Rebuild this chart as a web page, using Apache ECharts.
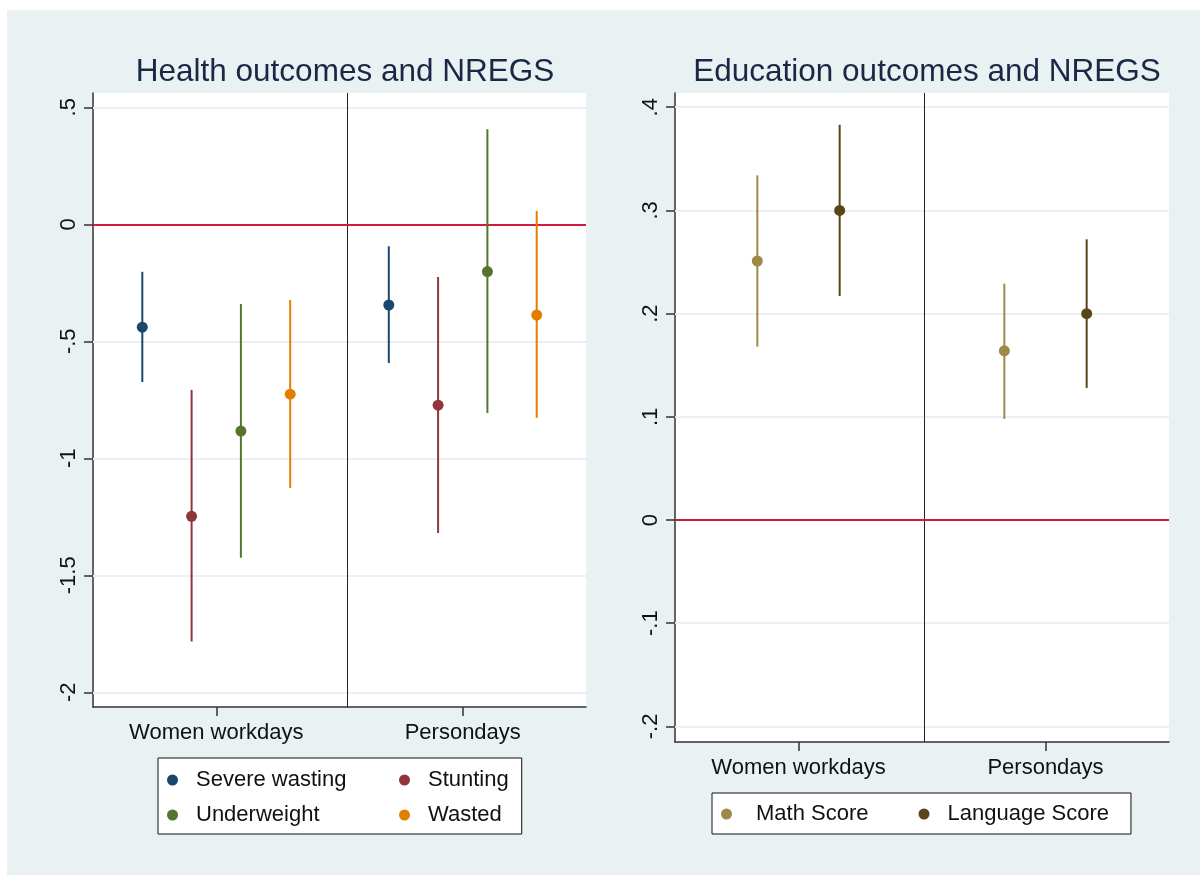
<!DOCTYPE html>
<html>
<head>
<meta charset="utf-8">
<script src="https://cdn.jsdelivr.net/npm/echarts@6/dist/echarts.min.js"></script>
<style>
  html, body { margin: 0; background: #fff; }
  #chart { position: absolute; left: 7px; top: 10px; width: 1193px; height: 865px; }
</style>
</head>
<body>
<div id="chart"></div>
<script>
// categories on the x axis of both panels
var categories = ['Women workdays', 'Persondays'];

// health panel: point estimate, lower and upper bound for [Women workdays, Persondays]
var severeEst = [-0.440, -0.345];
var severeLo = [-0.674, -0.593];
var severeHi = [-0.203, -0.094];
var stuntEst = [-1.248, -0.773];
var stuntLo = [-1.783, -1.319];
var stuntHi = [-0.708, -0.225];
var underEst = [-0.884, -0.202];
var underLo = [-1.425, -0.807];
var underHi = [-0.341, 0.406];
var wastedEst = [-0.726, -0.388];
var wastedLo = [-1.127, -0.827];
var wastedHi = [-0.324, 0.057];

// education panel
var mathEst = [0.251, 0.164];
var mathLo = [0.168, 0.098];
var mathHi = [0.334, 0.229];
var langEst = [0.300, 0.200];
var langLo = [0.217, 0.128];
var langHi = [0.383, 0.272];

// y tick labels
var healthTicks = [-2, -1.5, -1, -0.5, 0, 0.5];
var eduTicks = [-0.2, -0.1, 0, 0.1, 0.2, 0.3, 0.4];

// vertical divider between the two groups (x scale: 0..2, groups centred at .5 and 1.5)
var healthDivider = 1.026;
var eduDivider = 1.011;

var FONT = 'Liberation Sans, Arial, sans-serif';
var chart = echarts.init(document.getElementById('chart'));

// stata style labels: .5, -.5, -1.5
function stataTick(v) {
  var s = String(Math.round(v * 10) / 10);
  return s.replace(/^(-?)0\./, '$1.');
}

// x position = category centre + offset (share of the category band)
function pts(est, offset) {
  return est.map(function (v, i) { return [i + 0.5 + offset, v]; });
}
function bars(lo, hi, offset) {
  return lo.map(function (v, i) { return [i + 0.5 + offset, v, hi[i]]; });
}

function errorBar(color) {
  return function (params, api) {
    var a = api.coord([api.value(0), api.value(2)]);
    var b = api.coord([api.value(0), api.value(1)]);
    return {
      type: 'line',
      shape: { x1: a[0], y1: a[1], x2: b[0], y2: b[1] },
      style: { stroke: color, lineWidth: 2 }
    };
  };
}

function addSeries(list, p, name, color, est, lo, hi, offset) {
  list.push({
    type: 'custom', name: name, xAxisIndex: p, yAxisIndex: p, z: 3,
    itemStyle: { color: color },
    renderItem: errorBar(color), encode: { x: 0, y: [1, 2] },
    data: bars(lo, hi, offset), silent: true
  });
  list.push({
    type: 'scatter', name: name, xAxisIndex: p, yAxisIndex: p, z: 4,
    symbol: 'circle', symbolSize: 11, itemStyle: { color: color, opacity: 1 },
    data: pts(est, offset), silent: true
  });
}

function refLines(p, ticks, divider) {
  var data = ticks.map(function (t) {
    return { yAxis: t, lineStyle: { color: '#e9f1f4', width: 2, type: 'solid' } };
  });
  data.push({ xAxis: divider, lineStyle: { color: '#222', width: 1, type: 'solid' } });
  data.push({ yAxis: 0, lineStyle: { color: '#cf1a40', width: 2, type: 'solid' } });
  return {
    type: 'line', xAxisIndex: p, yAxisIndex: p, data: [], z: 1, silent: true,
    markLine: { z: 1, silent: true, symbol: ['none', 'none'], label: { show: false }, animation: false, data: data }
  };
}

function xAxis(p) {
  return {
    type: 'value', gridIndex: p, min: 0, max: 2,
    axisLine: { show: true, onZero: false, lineStyle: { color: '#333', width: 1.5 } },
    axisTick: { show: true, customValues: [0.5, 1.5], length: 9, lineStyle: { color: '#333', width: 1.5 } },
    axisLabel: {
      customValues: [0.5, 1.5], margin: 15, fontSize: 22, color: '#111', fontFamily: FONT,
      formatter: function (v) { return categories[Math.round(v - 0.5)]; }
    },
    splitLine: { show: false }
  };
}

function yAxis(p, min, max, ticks) {
  return {
    type: 'value', gridIndex: p, min: min, max: max,
    axisLine: { show: true, onZero: false, lineStyle: { color: '#333', width: 1.5 } },
    axisTick: { show: true, customValues: ticks, length: 9, lineStyle: { color: '#333', width: 1.5 } },
    axisLabel: {
      customValues: ticks, rotate: 90, margin: 13, fontSize: 22, color: '#111', fontFamily: FONT,
      formatter: stataTick
    },
    splitLine: { show: false }
  };
}

var series = [refLines(0, healthTicks, healthDivider), refLines(1, eduTicks, eduDivider)];
addSeries(series, 0, 'Severe wasting', '#1a476f', severeEst, severeLo, severeHi, -0.3);
addSeries(series, 0, 'Stunting', '#90353b', stuntEst, stuntLo, stuntHi, -0.1);
addSeries(series, 0, 'Underweight', '#55752f', underEst, underLo, underHi, 0.1);
addSeries(series, 0, 'Wasted', '#e37e00', wastedEst, wastedLo, wastedHi, 0.3);
addSeries(series, 1, 'Math Score', '#9e8947', mathEst, mathLo, mathHi, -1 / 6);
addSeries(series, 1, 'Language Score', '#5a4518', langEst, langLo, langHi, 1 / 6);

var legendBase = {
  itemWidth: 11, itemHeight: 11, icon: 'circle',
  backgroundColor: '#fff', borderColor: '#111', borderWidth: 1, borderRadius: 0,
  selectedMode: false,
  textStyle: { fontSize: 22, fontFamily: FONT, color: '#111', lineHeight: 24, padding: [0, 0, 0, 13] }
};

var option = {
  backgroundColor: '#e9f1f3',
  animation: false,
  title: [
    { text: 'Health outcomes and NREGS', left: 333, top: 41, textAlign: 'center',
      textStyle: { fontSize: 31.5, fontWeight: 'normal', color: '#1a2745', fontFamily: FONT } },
    { text: 'Education outcomes and NREGS', left: 915, top: 41, textAlign: 'center',
      textStyle: { fontSize: 31.5, fontWeight: 'normal', color: '#1a2745', fontFamily: FONT } }
  ],
  grid: [
    { left: 86, top: 83, width: 493, height: 614, backgroundColor: '#fff', show: true, borderWidth: 0 },
    { left: 668, top: 83, width: 494, height: 649, backgroundColor: '#fff', show: true, borderWidth: 0 }
  ],
  xAxis: [xAxis(0), xAxis(1)],
  yAxis: [yAxis(0, -2.063, 0.561, healthTicks), yAxis(1, -0.2151, 0.4138, eduTicks)],
  legend: [
    Object.assign({}, legendBase, {
      orient: 'vertical', left: 151, top: 748, height: 60, itemGap: 11, padding: [10, 13, 7, 9],
      data: [
        { name: 'Severe wasting', textStyle: { width: 192 } },
        { name: 'Underweight', textStyle: { width: 192 } },
        { name: 'Stunting' },
        { name: 'Wasted' }
      ]
    }),
    Object.assign({}, legendBase, {
      orient: 'horizontal', left: 705, top: 783, itemGap: 10, padding: [9, 22, 8, 9],
      data: [
        { name: 'Math Score', textStyle: { padding: [0, 40, 0, 19] } },
        { name: 'Language Score' }
      ]
    })
  ],
  series: series
};

chart.setOption(option);
</script>
</body>
</html>
